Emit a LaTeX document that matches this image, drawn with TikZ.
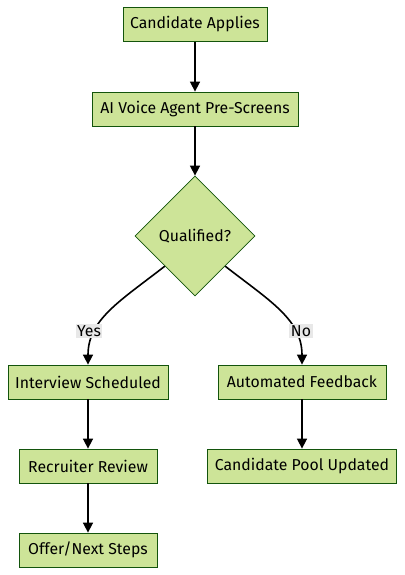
\documentclass[tikz,border=0pt]{standalone}
\usepackage{fontspec}
\setmainfont{Fira Sans}
\usetikzlibrary{shapes.geometric,arrows.meta}
\definecolor{boxfill}{HTML}{CDE498}
\definecolor{boxline}{HTML}{13540C}
\definecolor{lblbg}{HTML}{E8E8E8}
\begin{document}
\begin{tikzpicture}[x=1pt,y=-1pt,
  box/.style={draw=boxline,line width=0.8pt,fill=boxfill,inner sep=0pt,minimum height=34pt,font=\fontsize{15.8}{18}\selectfont,text=black},
  dec/.style={draw=boxline,line width=0.8pt,fill=boxfill,shape=diamond,inner sep=0pt,minimum width=120pt,minimum height=120pt,font=\fontsize{15.8}{18}\selectfont},
  lbl/.style={fill=lblbg,inner sep=1.5pt,font=\fontsize{15.8}{18}\selectfont},
  edge/.style={line width=1.6pt,-{Triangle[width=10pt,length=10pt]}}]
\useasboundingbox (0,0) rectangle (404,575);
\node[box,minimum width=144pt] (CA) at (195,24.5) {Candidate Applies};
\node[box,minimum width=206pt] (AI) at (195,109) {AI Voice Agent Pre-Screens};
\node[dec] (Q) at (195,236) {Qualified?};
\node[box,minimum width=160pt] (IS) at (88,382) {Interview Scheduled};
\node[box,minimum width=168pt] (AF) at (302,382) {Automated Feedback};
\node[box,minimum width=138pt] (RR) at (88,466) {Recruiter Review};
\node[box,minimum width=189pt] (CP) at (302,466) {Candidate Pool Updated};
\node[box,minimum width=138pt] (OF) at (88,550) {Offer/Next Steps};
\draw[edge] (CA) -- (AI);
\draw[edge] (AI) -- (Q);
\draw[edge] (Q.south west) .. controls +(-45,35) and +(0,-45) .. (IS.north);
\draw[edge] (Q.south east) .. controls +(45,35) and +(0,-45) .. (AF.north);
\draw[edge] (IS) -- (RR);
\draw[edge] (RR) -- (OF);
\draw[edge] (AF) -- (CP);
\node[lbl] (yes) at (89,331) {Yes};
\node[lbl] (no) at (301,331) {No};
\end{tikzpicture}
\end{document}
